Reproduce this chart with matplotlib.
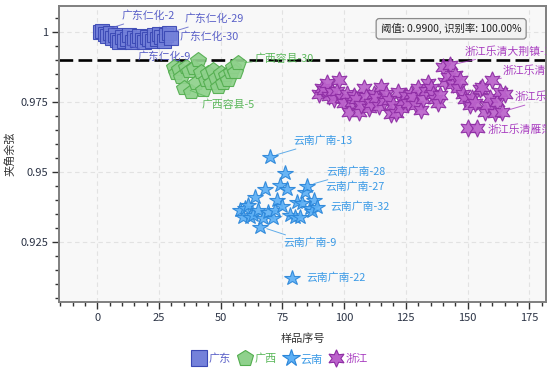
import numpy as np
import matplotlib.pyplot as plt
from matplotlib.lines import Line2D
from matplotlib.ticker import MultipleLocator

plt.rcParams['font.family'] = ['Noto Sans CJK SC', 'DejaVu Sans']
plt.rcParams['axes.unicode_minus'] = False

# 夹角余弦, one value per sample; sample numbers run on from each start
gd_start = 1
gd_y = [0.9998, 1.0003, 0.9993, 0.9985, 0.9996, 0.9978, 0.9988, 0.9972, 0.9962, 0.9980,
        0.9968, 0.9975, 0.9990, 0.9965, 0.9978, 0.9970, 0.9985, 0.9972, 0.9965, 0.9982,
        0.9976, 0.9968, 0.9988, 0.9973, 0.9992, 0.9980, 0.9969, 0.9990, 0.9996, 0.9978]
gx_start = 31
gx_y = [0.9876, 0.9852, 0.9866, 0.9840, 0.9800, 0.9876, 0.9862, 0.9786, 0.9870, 0.9816,
        0.9899, 0.9858, 0.9792, 0.9828, 0.9852, 0.9816, 0.9864, 0.9834, 0.9804, 0.9852,
        0.9816, 0.9846, 0.9828, 0.9858, 0.9876, 0.9858, 0.9888]
yn_start = 58
yn_y = [0.9365, 0.9341, 0.9372, 0.9383, 0.9341, 0.9347, 0.9413, 0.9365, 0.9306, 0.9336,
        0.9439, 0.9359, 0.9555, 0.9336, 0.9365, 0.9401, 0.9454, 0.9380, 0.9498, 0.9439,
        0.9347, 0.9124, 0.9341, 0.9395, 0.9341, 0.9389, 0.9430, 0.9452, 0.9371, 0.9360,
        0.9400, 0.9377]
zj_start = 90
zj_y = [0.9780, 0.9800, 0.9792, 0.9816, 0.9770, 0.9786, 0.9760, 0.9790, 0.9828, 0.9763,
        0.9745, 0.9780, 0.9715, 0.9750, 0.9772, 0.9760, 0.9715, 0.9740, 0.9798, 0.9769,
        0.9727, 0.9745, 0.9780, 0.9763, 0.9735, 0.9804, 0.9755, 0.9780, 0.9757, 0.9706,
        0.9740, 0.9712, 0.9786, 0.9730, 0.9755, 0.9770, 0.9745, 0.9780, 0.9769, 0.9740,
        0.9800, 0.9721, 0.9760, 0.9790, 0.9816, 0.9800, 0.9778, 0.9760, 0.9745, 0.9775,
        0.9875, 0.9822, 0.9840, 0.9881, 0.9815, 0.9846, 0.9798, 0.9828, 0.9780, 0.9760,
        0.9656, 0.9739, 0.9763, 0.9745, 0.9656, 0.9795, 0.9804, 0.9715, 0.9740, 0.9763,
        0.9828, 0.9710, 0.9750, 0.9786, 0.9715, 0.9780]

groups = ['广东', '广西', '云南', '浙江']
threshold = 0.99
info_text = '阈值: 0.9900, 识别率: 100.00%'

# labelled samples: position in group (1-based) -> name
gd_names = {2: '广东仁化-2', 29: '广东仁化-29', 30: '广东仁化-30', 9: '广东仁化-9'}
gx_names = {5: '广西容县-5', 27: '广西容县-30'}
yn_names = {13: '云南广南-13', 28: '云南广南-28', 27: '云南广南-27', 32: '云南广南-32',
            9: '云南广南-9', 22: '云南广南-22'}
zj_names = {54: '浙江乐清大荆镇-12', 71: '浙江乐清雁荡-8', 75: '浙江乐清虹桥-3', 65: '浙江乐清雁荡-21'}

# label offsets in points and whether a leader line is drawn
offsets = {
    '广东仁化-2': (14, 10.8, True), '广东仁化-29': (11.6, 10, True),
    '广东仁化-30': (6.3, 1.1, False), '广东仁化-9': (13.3, -10.3, True),
    '广西容县-5': (13, -12.2, True), '广西容县-30': (12.2, 3.2, True),
    '云南广南-13': (16.8, 11.3, True), '云南广南-28': (14.1, 10, True),
    '云南广南-27': (14.7, 3.6, False), '云南广南-32': (9.4, 0, False),
    '云南广南-9': (16.6, -11.8, True), '云南广南-22': (9.9, 0, False),
    '浙江乐清大荆镇-12': (10.7, 10, True), '浙江乐清雁荡-8': (7.8, 7.2, True),
    '浙江乐清虹桥-3': (9.3, 10.6, True), '浙江乐清雁荡-21': (7.6, -1.2, False),
}

styles = [
    dict(marker='s', ms=10.5, lms=11, mfc='#7481da', mec='#3a48b4', tc='#5a60c8'),
    dict(marker='p', ms=11.5, lms=12, mfc='#8fd18c', mec='#52ad4e', tc='#5cb85c'),
    dict(marker='*', ms=11.5, lms=13, mfc='#5db0f5', mec='#2b86d9', tc='#3b9ae6'),
    dict(marker=(6, 1, 0), ms=12.5, lms=12.5, mfc='#bb62cb', mec='#8d2ca3', tc='#a83cc0'),
]

fig = plt.figure(figsize=(5.54, 3.69), dpi=100)
ax = fig.add_axes([0.1074, 0.1816, 0.8782, 0.8021])
ax.set_facecolor('#f8f8f8')

series = [(gd_start, gd_y, gd_names), (gx_start, gx_y, gx_names),
          (yn_start, yn_y, yn_names), (zj_start, zj_y, zj_names)]

ax.axhline(threshold, color='black', lw=1.9, dashes=(5.2, 2.0), zorder=2)

handles = []
for (start, ys, names), st, g in zip(series, styles, groups):
    xs = np.arange(start, start + len(ys))
    ax.plot(xs, ys, linestyle='none', marker=st['marker'], ms=st['ms'],
            mfc=st['mfc'], mec=st['mec'], mew=0.8, alpha=0.92, zorder=3)
    handles.append(Line2D([], [], linestyle='none', marker=st['marker'], ms=st['lms'],
                          mfc=st['mfc'], mec=st['mec'], mew=0.8))
    for k, name in names.items():
        dx, dy, lead = offsets[name]
        arrow = dict(arrowstyle='-', color=st['tc'], lw=0.7, alpha=0.8,
                     shrinkA=0, shrinkB=5) if lead else None
        ax.annotate(name, (xs[k - 1], ys[k - 1]), xytext=(dx, dy),
                    textcoords='offset points', ha='left', va='center',
                    fontsize=7.8, color=st['tc'], arrowprops=arrow,
                    annotation_clip=False, clip_on=True, zorder=4)

ax.set_xlim(-15.3, 181.8)
ax.set_ylim(0.9037, 1.0092)
ax.set_xticks([0, 25, 50, 75, 100, 125, 150, 175])
ax.xaxis.set_minor_locator(MultipleLocator(5))
ax.set_yticks([0.925, 0.95, 0.975, 1.0])
ax.set_yticklabels(['0.925', '0.95', '0.975', '1'])
ax.yaxis.set_minor_locator(MultipleLocator(0.005))
ax.tick_params(which='major', length=5, width=1, color='#333', labelsize=8,
               labelcolor='#2b3345', pad=3)
ax.tick_params(which='minor', length=3, width=1, color='#333')
ax.grid(which='major', color='#e2e2e2', lw=0.8, linestyle=(0, (4, 3)))
ax.set_axisbelow(True)
for sp in ax.spines.values():
    sp.set_color('#7f7f7f')
    sp.set_linewidth(1.4)

ax.set_xlabel('样品序号', fontsize=8, color='#333')
ax.set_ylabel('夹角余弦', fontsize=8, color='#333')
ax.xaxis.set_label_coords(0.5, -0.107)
ax.yaxis.set_label_coords(-0.0915, 0.5)

ax.text(0.805, 0.923, info_text, transform=ax.transAxes, ha='center', va='center',
        fontsize=7.5, color='#222', zorder=5,
        bbox=dict(boxstyle='round,pad=0.45,rounding_size=0.3', fc='#f2f2f2',
                  ec='#8a8a8a', lw=0.9))

fig.legend(handles, groups, loc='center', bbox_to_anchor=(280 / 554, 1 - 359 / 369),
           ncol=4, frameon=False, fontsize=8, handletextpad=0.2, columnspacing=0.6,
           handlelength=1.3, labelcolor=[s['tc'] for s in styles])

fig.savefig('out.png', dpi=100)
